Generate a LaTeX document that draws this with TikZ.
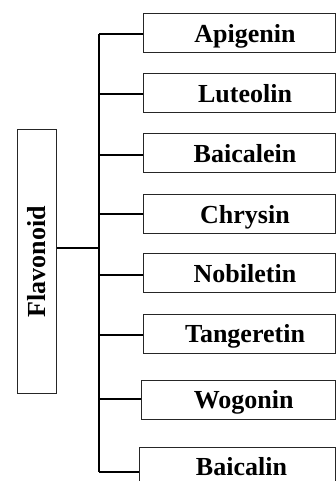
\documentclass[tikz,border=0pt]{standalone}
\usepackage{fontspec}
\setmainfont{Liberation Serif}
\begin{document}
\begin{tikzpicture}[x=1pt,y=-1pt,
  itembox/.style={draw=black!85, line width=1pt, rectangle, inner sep=0pt,
    minimum height=39pt, text height=18.6pt, text depth=0pt,
    font=\fontsize{26}{28}\selectfont\bfseries},
  conn/.style={draw=black, line width=1.6pt},
]
\useasboundingbox (0,0) rectangle (336,481);
% root
\node[draw=black!85, line width=1pt, minimum width=39pt, minimum height=263pt, inner sep=0pt] (flav) at (36.5,261.5) {};
\node[rotate=90, inner sep=0pt, text height=17pt, text depth=0pt, font=\fontsize{26}{28}\selectfont\bfseries] (flavtxt) at (36.7,261.5) {Flavonoid};
% items
\node[itembox, minimum width=192pt] (api) at (239,33) {\hspace*{12pt}Apigenin};
\node[itembox, minimum width=192pt] (lut) at (239,93.2) {\hspace*{12pt}Luteolin};
\node[itembox, minimum width=192pt] (bae) at (239,153.4) {\hspace*{12pt}Baicalein};
\node[itembox, minimum width=192pt] (chr) at (239,213.7) {\hspace*{12pt}Chrysin};
\node[itembox, minimum width=192pt] (nob) at (239,273.4) {\hspace*{12pt}Nobiletin};
\node[itembox, minimum width=192pt] (tan) at (239,333.5) {\hspace*{12pt}Tangeretin};
\node[itembox, minimum width=193.7pt] (wog) at (238.2,399.5) {\hspace*{11pt}Wogonin};
\node[itembox, minimum width=196pt] (bai) at (237,466.5) {\hspace*{9pt}Baicalin};
% trunk coordinates
\coordinate (t1) at (99,34);
\coordinate (tb) at (99,472);
\coordinate (fc) at (99,248);
\draw[conn] (t1) -- (tb);
\draw[conn] (fc -| flav.east) -- (fc);
\draw[conn] (t1) -- (t1 -| api.west);
\draw[conn] (99,94) -- (lut.west |- 99,94);
\draw[conn] (99,155) -- (bae.west |- 99,155);
\draw[conn] (99,214) -- (chr.west |- 99,214);
\draw[conn] (99,275) -- (nob.west |- 99,275);
\draw[conn] (99,335) -- (tan.west |- 99,335);
\draw[conn] (99,399) -- (wog.west |- 99,399);
\draw[conn] (tb) -- (tb -| bai.west);
\end{tikzpicture}
\end{document}
